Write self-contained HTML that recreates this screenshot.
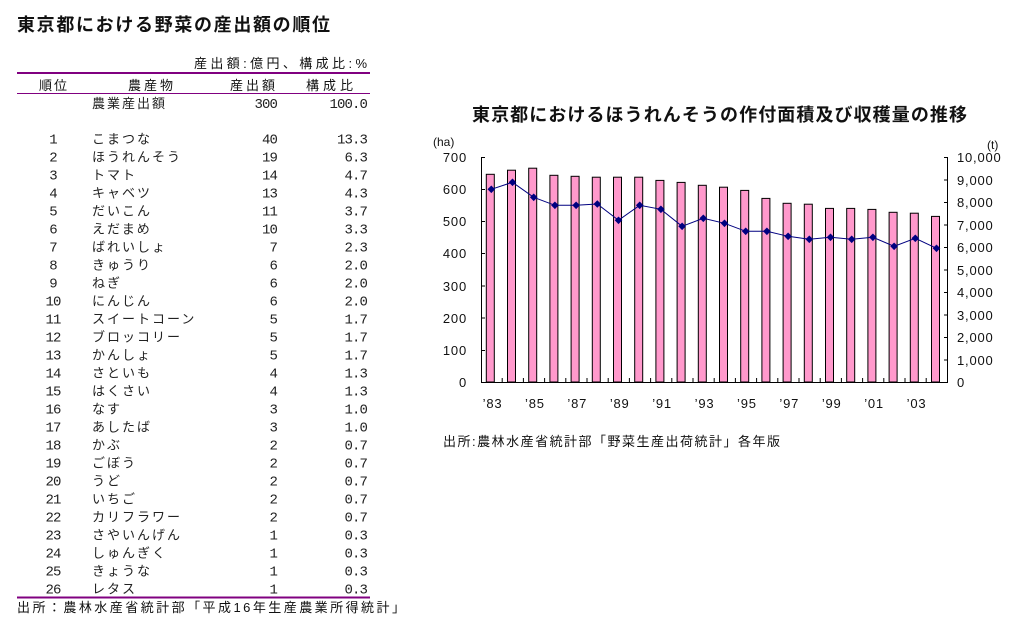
<!DOCTYPE html>
<html><head><meta charset="utf-8">
<style>
html,body{margin:0;padding:0;background:#fff;}
svg{display:block;}
.t{font-family:"Liberation Sans","Noto Sans CJK JP",sans-serif;fill:#111;}
.jp{font-family:"Liberation Sans","Noto Sans CJK JP",sans-serif;font-size:13px;fill:#222;letter-spacing:2px;}
.num{font-family:"Liberation Mono",monospace;font-size:14px;fill:#222;letter-spacing:-0.9px;}
.ttl{font-family:"Liberation Sans","Noto Sans CJK JP",sans-serif;font-size:18px;font-weight:bold;fill:#111;}
.ax{font-family:"Liberation Sans",sans-serif;font-size:13px;fill:#111;letter-spacing:0.8px;}
</style></head>
<body>
<svg width="1032" height="642" viewBox="0 0 1032 642" xmlns="http://www.w3.org/2000/svg">
<!-- Left title -->
<text class="ttl" x="17" y="31" textLength="313" lengthAdjust="spacing">東京都における野菜の産出額の順位</text>
<text class="t" x="367" y="68" font-size="13" text-anchor="end" textLength="173" lengthAdjust="spacing">産出額:億円、構成比:%</text>
<line x1="17" y1="73" x2="370" y2="73" stroke="#800080" stroke-width="2"/>
<text class="t" x="39" y="90" font-size="13" textLength="28" lengthAdjust="spacing">順位</text>
<text class="t" x="128" y="90" font-size="13" textLength="45" lengthAdjust="spacing">農産物</text>
<text class="t" x="230" y="90" font-size="13" textLength="45" lengthAdjust="spacing">産出額</text>
<text class="t" x="306" y="90" font-size="13" textLength="47" lengthAdjust="spacing">構成比</text>
<line x1="17" y1="93.5" x2="370" y2="93.5" stroke="#800080" stroke-width="1"/>
<text class="jp" x="92" y="108">農業産出額</text>
<text class="num" x="277" y="108" text-anchor="end">300</text>
<text class="num" x="367" y="108" text-anchor="end">100.0</text>

<g>
<text class="num" x="53" y="143.3" text-anchor="middle">1</text><text class="jp" x="92" y="143.3">こまつな</text><text class="num" x="277" y="143.3" text-anchor="end">40</text><text class="num" x="367" y="143.3" text-anchor="end">13.3</text>
<text class="num" x="53" y="161.3" text-anchor="middle">2</text><text class="jp" x="92" y="161.3">ほうれんそう</text><text class="num" x="277" y="161.3" text-anchor="end">19</text><text class="num" x="367" y="161.3" text-anchor="end">6.3</text>
<text class="num" x="53" y="179.3" text-anchor="middle">3</text><text class="jp" x="92" y="179.3">トマト</text><text class="num" x="277" y="179.3" text-anchor="end">14</text><text class="num" x="367" y="179.3" text-anchor="end">4.7</text>
<text class="num" x="53" y="197.3" text-anchor="middle">4</text><text class="jp" x="92" y="197.3">キャベツ</text><text class="num" x="277" y="197.3" text-anchor="end">13</text><text class="num" x="367" y="197.3" text-anchor="end">4.3</text>
<text class="num" x="53" y="215.3" text-anchor="middle">5</text><text class="jp" x="92" y="215.3">だいこん</text><text class="num" x="277" y="215.3" text-anchor="end">11</text><text class="num" x="367" y="215.3" text-anchor="end">3.7</text>
<text class="num" x="53" y="233.3" text-anchor="middle">6</text><text class="jp" x="92" y="233.3">えだまめ</text><text class="num" x="277" y="233.3" text-anchor="end">10</text><text class="num" x="367" y="233.3" text-anchor="end">3.3</text>
<text class="num" x="53" y="251.3" text-anchor="middle">7</text><text class="jp" x="92" y="251.3">ばれいしょ</text><text class="num" x="277" y="251.3" text-anchor="end">7</text><text class="num" x="367" y="251.3" text-anchor="end">2.3</text>
<text class="num" x="53" y="269.3" text-anchor="middle">8</text><text class="jp" x="92" y="269.3">きゅうり</text><text class="num" x="277" y="269.3" text-anchor="end">6</text><text class="num" x="367" y="269.3" text-anchor="end">2.0</text>
<text class="num" x="53" y="287.3" text-anchor="middle">9</text><text class="jp" x="92" y="287.3">ねぎ</text><text class="num" x="277" y="287.3" text-anchor="end">6</text><text class="num" x="367" y="287.3" text-anchor="end">2.0</text>
<text class="num" x="53" y="305.3" text-anchor="middle">10</text><text class="jp" x="92" y="305.3">にんじん</text><text class="num" x="277" y="305.3" text-anchor="end">6</text><text class="num" x="367" y="305.3" text-anchor="end">2.0</text>
<text class="num" x="53" y="323.3" text-anchor="middle">11</text><text class="jp" x="92" y="323.3">スイートコーン</text><text class="num" x="277" y="323.3" text-anchor="end">5</text><text class="num" x="367" y="323.3" text-anchor="end">1.7</text>
<text class="num" x="53" y="341.3" text-anchor="middle">12</text><text class="jp" x="92" y="341.3">ブロッコリー</text><text class="num" x="277" y="341.3" text-anchor="end">5</text><text class="num" x="367" y="341.3" text-anchor="end">1.7</text>
<text class="num" x="53" y="359.3" text-anchor="middle">13</text><text class="jp" x="92" y="359.3">かんしょ</text><text class="num" x="277" y="359.3" text-anchor="end">5</text><text class="num" x="367" y="359.3" text-anchor="end">1.7</text>
<text class="num" x="53" y="377.3" text-anchor="middle">14</text><text class="jp" x="92" y="377.3">さといも</text><text class="num" x="277" y="377.3" text-anchor="end">4</text><text class="num" x="367" y="377.3" text-anchor="end">1.3</text>
<text class="num" x="53" y="395.3" text-anchor="middle">15</text><text class="jp" x="92" y="395.3">はくさい</text><text class="num" x="277" y="395.3" text-anchor="end">4</text><text class="num" x="367" y="395.3" text-anchor="end">1.3</text>
<text class="num" x="53" y="413.3" text-anchor="middle">16</text><text class="jp" x="92" y="413.3">なす</text><text class="num" x="277" y="413.3" text-anchor="end">3</text><text class="num" x="367" y="413.3" text-anchor="end">1.0</text>
<text class="num" x="53" y="431.3" text-anchor="middle">17</text><text class="jp" x="92" y="431.3">あしたば</text><text class="num" x="277" y="431.3" text-anchor="end">3</text><text class="num" x="367" y="431.3" text-anchor="end">1.0</text>
<text class="num" x="53" y="449.3" text-anchor="middle">18</text><text class="jp" x="92" y="449.3">かぶ</text><text class="num" x="277" y="449.3" text-anchor="end">2</text><text class="num" x="367" y="449.3" text-anchor="end">0.7</text>
<text class="num" x="53" y="467.3" text-anchor="middle">19</text><text class="jp" x="92" y="467.3">ごぼう</text><text class="num" x="277" y="467.3" text-anchor="end">2</text><text class="num" x="367" y="467.3" text-anchor="end">0.7</text>
<text class="num" x="53" y="485.3" text-anchor="middle">20</text><text class="jp" x="92" y="485.3">うど</text><text class="num" x="277" y="485.3" text-anchor="end">2</text><text class="num" x="367" y="485.3" text-anchor="end">0.7</text>
<text class="num" x="53" y="503.3" text-anchor="middle">21</text><text class="jp" x="92" y="503.3">いちご</text><text class="num" x="277" y="503.3" text-anchor="end">2</text><text class="num" x="367" y="503.3" text-anchor="end">0.7</text>
<text class="num" x="53" y="521.3" text-anchor="middle">22</text><text class="jp" x="92" y="521.3">カリフラワー</text><text class="num" x="277" y="521.3" text-anchor="end">2</text><text class="num" x="367" y="521.3" text-anchor="end">0.7</text>
<text class="num" x="53" y="539.3" text-anchor="middle">23</text><text class="jp" x="92" y="539.3">さやいんげん</text><text class="num" x="277" y="539.3" text-anchor="end">1</text><text class="num" x="367" y="539.3" text-anchor="end">0.3</text>
<text class="num" x="53" y="557.3" text-anchor="middle">24</text><text class="jp" x="92" y="557.3">しゅんぎく</text><text class="num" x="277" y="557.3" text-anchor="end">1</text><text class="num" x="367" y="557.3" text-anchor="end">0.3</text>
<text class="num" x="53" y="575.3" text-anchor="middle">25</text><text class="jp" x="92" y="575.3">きょうな</text><text class="num" x="277" y="575.3" text-anchor="end">1</text><text class="num" x="367" y="575.3" text-anchor="end">0.3</text>
<text class="num" x="53" y="593.3" text-anchor="middle">26</text><text class="jp" x="92" y="593.3">レタス</text><text class="num" x="277" y="593.3" text-anchor="end">1</text><text class="num" x="367" y="593.3" text-anchor="end">0.3</text>
</g>
<line x1="17" y1="597.5" x2="370" y2="597.5" stroke="#800080" stroke-width="2"/>
<text class="t" x="17" y="612" font-size="13" textLength="388" lengthAdjust="spacing">出所：農林水産省統計部「平成16年生産農業所得統計」</text>

<!-- Chart -->
<text class="ttl" x="472" y="121" textLength="495" lengthAdjust="spacing">東京都におけるほうれんそうの作付面積及び収穫量の推移</text>
<text class="t" x="433" y="146" font-size="12">(ha)</text>
<text class="t" x="987" y="149" font-size="12">(t)</text>

<g fill="#FF99CC" stroke="#000" stroke-width="1">
<rect x="486.3" y="174.3" width="8" height="207.7"/>
<rect x="507.5" y="170.2" width="8" height="211.8"/>
<rect x="528.7" y="168.2" width="8" height="213.8"/>
<rect x="549.9" y="175.3" width="8" height="206.7"/>
<rect x="571.1" y="176.3" width="8" height="205.7"/>
<rect x="592.3" y="177.2" width="8" height="204.8"/>
<rect x="613.5" y="177.2" width="8" height="204.8"/>
<rect x="634.7" y="177.2" width="8" height="204.8"/>
<rect x="655.9" y="180.4" width="8" height="201.6"/>
<rect x="677.1" y="182.4" width="8" height="199.6"/>
<rect x="698.3" y="185.3" width="8" height="196.7"/>
<rect x="719.5" y="187.2" width="8" height="194.8"/>
<rect x="740.7" y="190.4" width="8" height="191.6"/>
<rect x="761.9" y="198.4" width="8" height="183.6"/>
<rect x="783.1" y="203.3" width="8" height="178.7"/>
<rect x="804.3" y="204.2" width="8" height="177.8"/>
<rect x="825.5" y="208.4" width="8" height="173.6"/>
<rect x="846.7" y="208.4" width="8" height="173.6"/>
<rect x="867.9" y="209.4" width="8" height="172.6"/>
<rect x="889.1" y="212.3" width="8" height="169.7"/>
<rect x="910.3" y="213.2" width="8" height="168.8"/>
<rect x="931.5" y="216.4" width="8" height="165.6"/>
</g>

<!-- axes -->
<g stroke="#000" stroke-width="1" fill="none">
<line x1="481.5" y1="157" x2="481.5" y2="382.5"/>
<line x1="947.5" y1="157" x2="947.5" y2="382.5"/>
<line x1="481" y1="382.5" x2="948" y2="382.5"/>
<path d="M481,157.5h4 M481,189.5h4 M481,221.5h4 M481,253.5h4 M481,286h4 M481,318h4 M481,350.5h4"/>
<path d="M948,157.5h-4 M948,180h-4 M948,202.5h-4 M948,225h-4 M948,247.5h-4 M948,270h-4 M948,292.5h-4 M948,315h-4 M948,337.5h-4 M948,360h-4"/>
<path d="M502.2,382v-4 M523.4,382v-4 M544.6,382v-4 M565.8,382v-4 M587,382v-4 M608.2,382v-4 M629.4,382v-4 M650.6,382v-4 M671.8,382v-4 M693,382v-4 M714.2,382v-4 M735.4,382v-4 M756.6,382v-4 M777.8,382v-4 M799,382v-4 M820.2,382v-4 M841.4,382v-4 M862.6,382v-4 M883.8,382v-4 M905,382v-4 M926.2,382v-4"/>
</g>

<!-- line series -->
<polyline fill="none" stroke="#000080" stroke-width="1" points="491.3,189.3 512.5,182.3 533.7,197.3 554.9,205.3 576.1,205.3 597.3,204 618.5,220.3 639.7,205.3 660.9,209.3 682.1,226.3 703.3,218.3 724.5,223.3 745.7,231.3 766.9,231.3 788.1,236.3 809.3,239.3 830.5,237.3 851.7,239.3 872.9,237.3 894.1,246.3 915.3,238.3 936.5,248.3"/>
<g fill="#000080">
<path d="M491.3,185.5l3.8,3.8l-3.8,3.8l-3.8,-3.8z"/>
<path d="M512.5,178.5l3.8,3.8l-3.8,3.8l-3.8,-3.8z"/>
<path d="M533.7,193.5l3.8,3.8l-3.8,3.8l-3.8,-3.8z"/>
<path d="M554.9,201.5l3.8,3.8l-3.8,3.8l-3.8,-3.8z"/>
<path d="M576.1,201.5l3.8,3.8l-3.8,3.8l-3.8,-3.8z"/>
<path d="M597.3,200.2l3.8,3.8l-3.8,3.8l-3.8,-3.8z"/>
<path d="M618.5,216.5l3.8,3.8l-3.8,3.8l-3.8,-3.8z"/>
<path d="M639.7,201.5l3.8,3.8l-3.8,3.8l-3.8,-3.8z"/>
<path d="M660.9,205.5l3.8,3.8l-3.8,3.8l-3.8,-3.8z"/>
<path d="M682.1,222.5l3.8,3.8l-3.8,3.8l-3.8,-3.8z"/>
<path d="M703.3,214.5l3.8,3.8l-3.8,3.8l-3.8,-3.8z"/>
<path d="M724.5,219.5l3.8,3.8l-3.8,3.8l-3.8,-3.8z"/>
<path d="M745.7,227.5l3.8,3.8l-3.8,3.8l-3.8,-3.8z"/>
<path d="M766.9,227.5l3.8,3.8l-3.8,3.8l-3.8,-3.8z"/>
<path d="M788.1,232.5l3.8,3.8l-3.8,3.8l-3.8,-3.8z"/>
<path d="M809.3,235.5l3.8,3.8l-3.8,3.8l-3.8,-3.8z"/>
<path d="M830.5,233.5l3.8,3.8l-3.8,3.8l-3.8,-3.8z"/>
<path d="M851.7,235.5l3.8,3.8l-3.8,3.8l-3.8,-3.8z"/>
<path d="M872.9,233.5l3.8,3.8l-3.8,3.8l-3.8,-3.8z"/>
<path d="M894.1,242.5l3.8,3.8l-3.8,3.8l-3.8,-3.8z"/>
<path d="M915.3,234.5l3.8,3.8l-3.8,3.8l-3.8,-3.8z"/>
<path d="M936.5,244.5l3.8,3.8l-3.8,3.8l-3.8,-3.8z"/>
</g>

<!-- left labels -->
<g class="ax" text-anchor="end">
<text x="467" y="162">700</text>
<text x="467" y="194">600</text>
<text x="467" y="226">500</text>
<text x="467" y="258">400</text>
<text x="467" y="291">300</text>
<text x="467" y="323">200</text>
<text x="467" y="355">100</text>
<text x="467" y="387">0</text>
</g>
<!-- right labels -->
<g class="ax">
<text x="957" y="162">10,000</text>
<text x="957" y="185">9,000</text>
<text x="957" y="207">8,000</text>
<text x="957" y="230">7,000</text>
<text x="957" y="252">6,000</text>
<text x="957" y="275">5,000</text>
<text x="957" y="297">4,000</text>
<text x="957" y="320">3,000</text>
<text x="957" y="342">2,000</text>
<text x="957" y="365">1,000</text>
<text x="957" y="387">0</text>
</g>
<!-- x labels -->
<g class="ax" text-anchor="middle">
<text x="492.5" y="408">’83</text>
<text x="534.9" y="408">’85</text>
<text x="577.3" y="408">’87</text>
<text x="619.7" y="408">’89</text>
<text x="662.1" y="408">’91</text>
<text x="704.5" y="408">’93</text>
<text x="746.9" y="408">’95</text>
<text x="789.3" y="408">’97</text>
<text x="831.7" y="408">’99</text>
<text x="874.1" y="408">’01</text>
<text x="916.5" y="408">’03</text>
</g>
<text class="t" x="443" y="446" font-size="13" textLength="337" lengthAdjust="spacing">出所:農林水産省統計部「野菜生産出荷統計」各年版</text>
</svg>
</body></html>
